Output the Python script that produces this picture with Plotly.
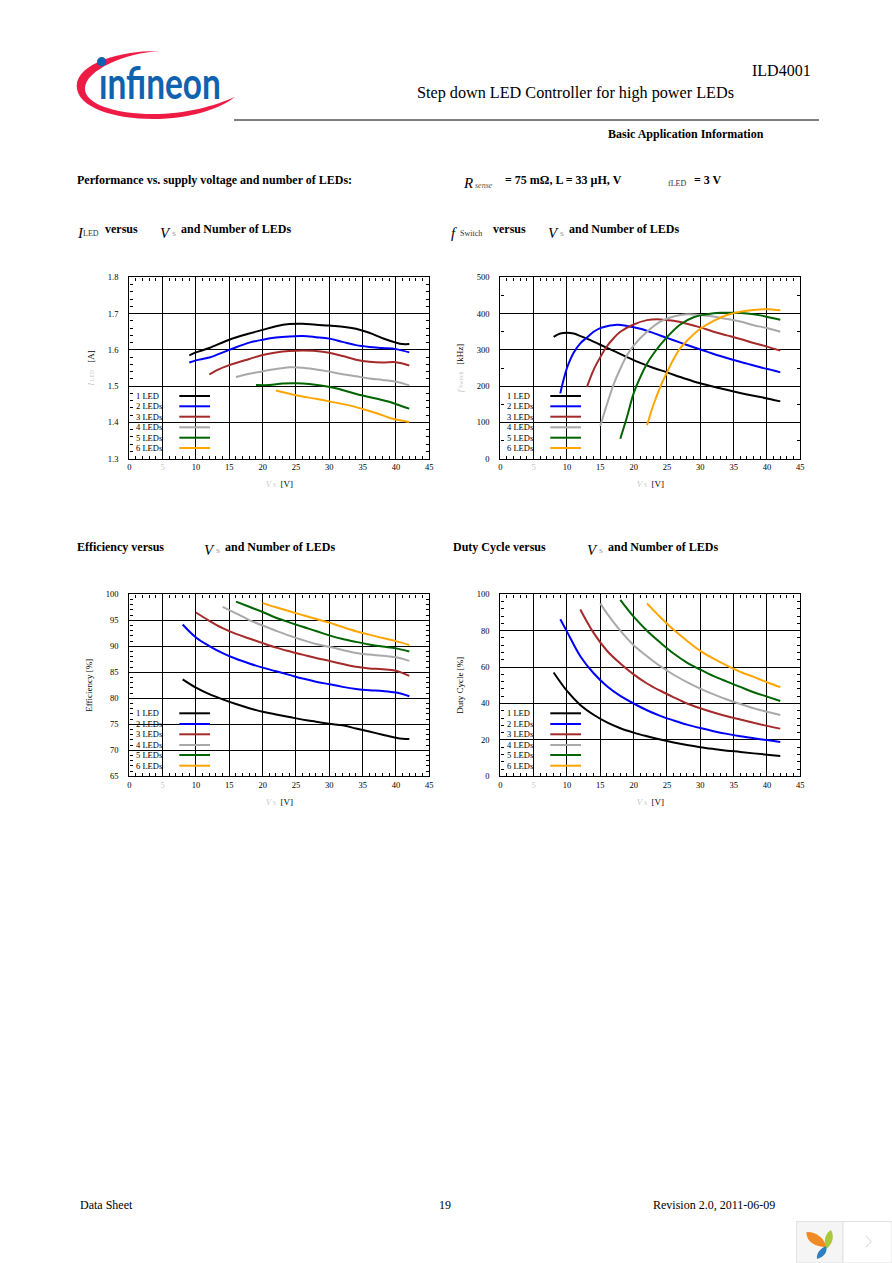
import plotly.graph_objects as go

W, H = 892, 1263
SERIES = ["1 LED", "2 LEDs", "3 LEDs", "4 LEDs", "5 LEDs", "6 LEDs"]
COLORS = ["#000000", "#0000ff", "#a52a2a", "#a9a9a9", "#006400", "#ffa500"]

# --- LED current [A] vs supply voltage
I_X1 = [9, 10, 12, 15, 18, 20, 22, 24, 26, 28, 30, 32, 34, 36, 38, 40, 41, 42]
I_Y1 = [1.585, 1.593, 1.605, 1.628, 1.645, 1.655, 1.665, 1.671, 1.672, 1.669, 1.667, 1.664, 1.658, 1.647, 1.632, 1.620, 1.616, 1.616]
I_X2 = [9, 10, 12, 15, 18, 20, 22, 24, 26, 28, 30, 32, 34, 36, 38, 40, 42]
I_Y2 = [1.565, 1.571, 1.579, 1.600, 1.620, 1.628, 1.634, 1.637, 1.638, 1.635, 1.631, 1.622, 1.613, 1.608, 1.605, 1.602, 1.593]
I_X3 = [12, 13, 15, 18, 20, 22, 24, 26, 28, 30, 32, 34, 36, 38, 40, 42]
I_Y3 = [1.532, 1.543, 1.558, 1.575, 1.586, 1.593, 1.597, 1.598, 1.597, 1.592, 1.583, 1.573, 1.567, 1.565, 1.566, 1.557]
I_X4 = [16, 18, 20, 22, 24, 26, 28, 30, 32, 34, 36, 38, 40, 42]
I_Y4 = [1.525, 1.534, 1.541, 1.547, 1.552, 1.551, 1.546, 1.540, 1.533, 1.527, 1.521, 1.517, 1.512, 1.502]
I_X5 = [19, 21, 23, 25, 27, 29, 31, 33, 35, 37, 39, 41, 42]
I_Y5 = [1.503, 1.503, 1.507, 1.508, 1.506, 1.501, 1.494, 1.484, 1.474, 1.466, 1.457, 1.444, 1.438]
I_X6 = [22, 25, 28, 30, 33, 35, 37, 39, 40, 42]
I_Y6 = [1.488, 1.475, 1.465, 1.458, 1.447, 1.437, 1.426, 1.413, 1.408, 1.401]

# --- Switching frequency [kHz] vs supply voltage
F_X1 = [8, 9, 10, 11, 12, 13, 15, 17, 19, 21, 23, 25, 27, 29, 31, 33, 35, 37, 39, 41, 42]
F_Y1 = [336, 345, 347, 345, 338, 331, 314, 297, 280, 264, 250, 238, 225, 213, 203, 194, 185, 177, 170, 162, 158]
F_X2 = [9, 9.5, 10, 11, 12, 13, 14, 15, 16, 17.5, 19, 21, 23, 25, 27, 29, 31, 33, 35, 37, 39, 41, 42]
F_Y2 = [180, 218, 250, 292, 318, 334, 350, 360, 365, 369, 366, 358, 346, 333, 320, 307, 295, 283, 272, 262, 252, 243, 238]
F_X3 = [13, 14, 15, 16, 17, 18, 20, 22, 24, 26, 28, 30, 32, 34, 36, 38, 40, 42]
F_Y3 = [198, 245, 280, 310, 332, 350, 370, 382, 384, 380, 372, 362, 350, 340, 330, 319, 309, 298]
F_X4 = [15, 16, 17, 18, 19, 20, 22, 24, 26, 28, 30, 32, 34, 36, 38, 40, 42]
F_Y4 = [90, 150, 205, 248, 285, 312, 350, 378, 392, 398, 396, 392, 385, 378, 368, 360, 350]
F_X5 = [18, 19, 20, 21, 22, 23, 25, 27, 29, 31, 33, 35, 37, 39, 41, 42]
F_Y5 = [55, 115, 180, 225, 262, 290, 335, 370, 390, 398, 402, 402, 400, 395, 387, 383]
F_X6 = [22, 23, 24, 25, 26, 27, 28, 30, 32, 34, 36, 38, 40, 42]
F_Y6 = [92, 150, 198, 238, 275, 305, 325, 358, 380, 396, 405, 410, 412, 409]

# --- Efficiency [%] vs supply voltage
E_X1 = [8, 10, 12, 14, 16, 18, 20, 22, 24, 26, 28, 30, 32, 34, 36, 38, 40, 41, 42]
E_Y1 = [83.65, 82.05, 80.8, 79.8, 78.9, 78.1, 77.4, 76.9, 76.4, 75.9, 75.5, 75.1, 74.8, 74.2, 73.6, 73.0, 72.4, 72.2, 72.15]
E_X2 = [8, 10, 12, 14, 16, 18, 20, 22, 24, 26, 28, 30, 32, 34, 36, 38, 40, 42]
E_Y2 = [94.2, 91.7, 90.05, 88.7, 87.6, 86.7, 85.9, 85.2, 84.5, 83.8, 83.2, 82.7, 82.2, 81.8, 81.55, 81.4, 81.1, 80.4]
E_X3 = [10, 12, 14, 16, 18, 20, 22, 24, 26, 28, 30, 32, 34, 36, 38, 40, 42]
E_Y3 = [96.5, 94.9, 93.5, 92.4, 91.5, 90.6, 89.75, 89.05, 88.4, 87.75, 87.2, 86.6, 86.05, 85.75, 85.6, 85.3, 84.3]
E_X4 = [14, 16, 18, 20, 22, 24, 26, 28, 30, 32, 34, 36, 38, 40, 42]
E_Y4 = [97.6, 96.35, 95.05, 94.0, 93.0, 92.05, 91.2, 90.45, 89.9, 89.3, 88.7, 88.4, 88.2, 87.9, 87.2]
E_X5 = [16, 18, 20, 22, 24, 26, 28, 30, 32, 34, 36, 38, 40, 42]
E_Y5 = [98.6, 97.6, 96.6, 95.5, 94.6, 93.75, 92.95, 92.1, 91.4, 90.85, 90.35, 89.95, 89.6, 89.0]
E_X6 = [20, 22, 24, 26, 28, 30, 32, 34, 36, 38, 40, 42]
E_Y6 = [98.3, 97.5, 96.75, 96.0, 95.25, 94.55, 93.7, 92.9, 92.25, 91.6, 91.0, 90.25]

# --- Duty cycle [%] vs supply voltage
D_X1 = [8, 10, 12, 14, 16, 18, 20, 22, 24, 26, 28, 30, 32, 34, 36, 38, 40, 42]
D_Y1 = [57, 46.9, 39.2, 33.8, 29.6, 26.4, 24, 22, 20.2, 18.6, 17.2, 16, 15, 14.1, 13.4, 12.6, 11.9, 11.2]
D_X2 = [9, 10, 12, 14, 16, 18, 20, 22, 24, 26, 28, 30, 32, 34, 36, 38, 40, 42]
D_Y2 = [86.3, 79.5, 66, 56.6, 49.5, 44.2, 40, 36.3, 33.2, 30.7, 28.4, 26.5, 24.8, 23.3, 22, 20.9, 19.9, 18.8]
D_X3 = [12, 14, 16, 18, 20, 22, 24, 26, 28, 30, 32, 34, 36, 38, 40, 42]
D_Y3 = [91.7, 78.8, 69, 62, 56, 51, 47, 43.4, 40, 37.4, 35.1, 33, 31.2, 29.4, 27.7, 26.2]
D_X4 = [15, 16, 18, 20, 22, 24, 26, 28, 30, 32, 34, 36, 38, 40, 42]
D_Y4 = [95, 89.5, 80, 72, 66, 60.5, 55.8, 51.8, 48.2, 45, 42.2, 39.7, 37.4, 35.5, 33.7]
D_X5 = [18, 20, 22, 24, 26, 28, 30, 32, 34, 36, 38, 40, 42]
D_Y5 = [96.9, 87.7, 80, 73.5, 67.5, 62.5, 58.6, 55, 52, 49.1, 46.2, 43.8, 41.4]
D_X6 = [22, 24, 26, 28, 30, 32, 34, 36, 38, 40, 42]
D_Y6 = [95, 87.4, 80.5, 74.5, 68.9, 64.6, 60.8, 57.4, 54.6, 51.7, 49]

X_TICKS = [0, 5, 10, 15, 20, 25, 30, 35, 40, 45]
I_TICKS = [1.3, 1.4, 1.5, 1.6, 1.7, 1.8]
F_TICKS = [0, 100, 200, 300, 400, 500]
E_TICKS = [65, 70, 75, 80, 85, 90, 95, 100]
D_TICKS = [0, 20, 40, 60, 80, 100]

PALE = "#c8c8c8"
SERIF = "Liberation Serif"


def pale_sym(sym, sub):
    return (f'<span style="color:{PALE}"><i>{sym}</i></span>'
            f'<span style="color:{PALE};font-size:6px"> {sub}</span>')


VS_TITLE = pale_sym("V", "S") + "  [V]"

PANELS = [
    dict(xs=[I_X1, I_X2, I_X3, I_X4, I_X5, I_X6], ys=[I_Y1, I_Y2, I_Y3, I_Y4, I_Y5, I_Y6],
         yticks=I_TICKS, fmt="{:.1f}", minor=0.02, rng=[1.3, 1.8],
         ytitle=pale_sym("I", "LED") + "   [A]",
         box=(129.3, 277.3, 429.3, 458.7), patch=(216, 391, 452.7),
         rows=[396, 406.3, 416.7, 427.3, 437.7, 448]),
    dict(xs=[F_X1, F_X2, F_X3, F_X4, F_X5, F_X6], ys=[F_Y1, F_Y2, F_Y3, F_Y4, F_Y5, F_Y6],
         yticks=F_TICKS, fmt="{:d}", minor=50, rng=[0, 500],
         ytitle=pale_sym("f", "Switch") + "   [kHz]",
         box=(500.3, 277.3, 800.3, 458.7), patch=(587, 388, 452.7),
         rows=[396, 406.3, 416.7, 427.3, 437.7, 448]),
    dict(xs=[E_X1, E_X2, E_X3, E_X4, E_X5, E_X6], ys=[E_Y1, E_Y2, E_Y3, E_Y4, E_Y5, E_Y6],
         yticks=E_TICKS, fmt="{:d}", minor=1, rng=[65, 100],
         ytitle="Efficiency [%]",
         box=(129.3, 594.3, 429.3, 776.3), patch=(216, 708, 771.7),
         rows=[713.3, 724, 734.3, 745, 755, 765.7]),
    dict(xs=[D_X1, D_X2, D_X3, D_X4, D_X5, D_X6], ys=[D_Y1, D_Y2, D_Y3, D_Y4, D_Y5, D_Y6],
         yticks=D_TICKS, fmt="{:d}", minor=4, rng=[0, 100],
         ytitle="Duty Cycle [%]",
         box=(500.3, 594.3, 800.3, 776.3), patch=(587, 708, 771.7),
         rows=[713.3, 724, 734.3, 745, 755, 765.7]),
]


def px(x):
    return x / W


def py(y):
    return 1 - y / H


def pth(s):
    """Convert 'M x y C x y x y x y ...' from page pixels to paper fractions."""
    out, isx = [], True
    for tok in s.split():
        if tok.isalpha():
            out.append(tok)
        else:
            v = float(tok)
            out.append(f"{px(v):.5f}" if isx else f"{py(v):.5f}")
            isx = not isx
    return " ".join(out)


fig = go.Figure()
shapes, notes = [], []


def text(x, y, s, size=12, bold=False, italic=False, color="#000000", anchor="left", family=SERIF):
    if bold:
        s = f"<b>{s}</b>"
    if italic:
        s = f"<i>{s}</i>"
    notes.append(dict(x=px(x - 1), y=py(y), xref="paper", yref="paper", text=s, showarrow=False,
                      xanchor=anchor, yanchor="middle", align=anchor, borderpad=0,
                      font=dict(family=family, size=size, color=color)))


for i, p in enumerate(PANELS):
    n = "" if i == 0 else str(i + 1)
    x0, y0, x1, y1 = p["box"]
    for j in range(6):
        fig.add_trace(go.Scatter(x=p["xs"][j], y=p["ys"][j], name=SERIES[j], mode="lines",
                                 line=dict(color=COLORS[j], width=2, shape="spline", smoothing=1),
                                 showlegend=False, xaxis=f"x{n}", yaxis=f"y{n}", hoverinfo="skip"))
    xt = [f'<span style="color:{PALE}">{v}</span>' if v == 5 else str(v) for v in X_TICKS]
    common = dict(showline=True, linecolor="#000000", linewidth=1.4, mirror="allticks",
                  showgrid=True, gridcolor="#000000", gridwidth=1, zeroline=False,
                  ticks="inside", ticklen=5, tickwidth=1, tickcolor="#000000",
                  tickfont=dict(family=SERIF, size=8.5, color="#000000"), tickangle=0)
    fig.update_layout({
        f"xaxis{n}": dict(common, domain=[px(x0), px(x1)], anchor=f"y{n}", range=[0, 45],
                          tickmode="array", tickvals=X_TICKS, ticktext=xt,
                          minor=dict(tickmode="linear", tick0=0, dtick=1, ticks="inside", ticklen=3,
                                     tickcolor="#000000", tickwidth=1, showgrid=False),
                          title=dict(text=VS_TITLE, standoff=9,
                                     font=dict(family=SERIF, size=9, color="#000000"))),
        f"yaxis{n}": dict(common, domain=[py(y1), py(y0)], anchor=f"x{n}", range=p["rng"],
                          tickmode="array", tickvals=p["yticks"],
                          ticktext=[p["fmt"].format(v) for v in p["yticks"]],
                          ticklabelstandoff=8,
                          minor=dict(tickmode="linear", tick0=p["rng"][0], dtick=p["minor"], ticks="inside",
                                     ticklen=3, tickcolor="#000000", tickwidth=1, showgrid=False),
                          title=dict(text=p["ytitle"], standoff=11,
                                     font=dict(family=SERIF, size=9, color="#000000"))),
    })
    # white legend patch over the grid, with hand-placed keys (label left of the line)
    right, top, bottom = p["patch"]
    shapes.append(dict(type="rect", xref="paper", yref="paper", x0=px(x0 + 1), x1=px(right),
                       y0=py(bottom), y1=py(top), fillcolor="#ffffff", line_width=0, layer="between"))
    for j, ry in enumerate(p["rows"]):
        text(x0 + 6.6, ry, SERIES[j], size=8.5)
        shapes.append(dict(type="line", xref="paper", yref="paper", x0=px(x0 + 50), x1=px(x0 + 80.7),
                           y0=py(ry), y1=py(ry), line=dict(color=COLORS[j], width=2)))

# --- Page furniture
text(752, 70, "ILD4001", size=16)
text(417, 93.5, "Step down LED Controller for high power LEDs", size=16.2)
shapes.append(dict(type="line", xref="paper", yref="paper", x0=px(234), x1=px(819), y0=py(120), y1=py(120),
                   line=dict(color="#000000", width=1)))
text(608, 134, "Basic Application Information", size=12, bold=True)
text(77, 180, "Performance vs. supply voltage and number of LEDs:", size=12, bold=True)
text(463, 183, "R", size=15, italic=True)
text(475, 185, "sense", size=8, italic=True, color="#555555")
text(505, 180, "= 75 mΩ, L = 33 µH, V", size=12, bold=True)
text(668, 184, "fLED", size=8, color="#333333")
text(694, 180, "= 3 V", size=12, bold=True)

text(77, 233, "I", size=15, italic=True)
text(83, 233, "LED", size=8, color="#333333")
text(105, 229, "versus", size=12, bold=True)
text(160, 233, "V", size=15, italic=True)
text(172, 234, "S", size=7, color="#888888")
text(181, 229, "and Number of LEDs", size=12, bold=True)

text(451, 233, "f", size=15, italic=True)
text(460, 233, "Switch", size=8, color="#333333")
text(493, 229, "versus", size=12, bold=True)
text(548, 233, "V", size=15, italic=True)
text(560, 234, "S", size=7, color="#888888")
text(569, 229, "and Number of LEDs", size=12, bold=True)

text(77, 547, "Efficiency versus", size=12, bold=True)
text(204, 550, "V", size=15, italic=True)
text(216, 551, "S", size=7, color="#888888")
text(225, 547, "and Number of LEDs", size=12, bold=True)

text(453, 547, "Duty Cycle versus", size=12, bold=True)
text(587, 550, "V", size=15, italic=True)
text(599, 551, "S", size=7, color="#888888")
text(608, 547, "and Number of LEDs", size=12, bold=True)

text(80, 1205, "Data Sheet", size=12)
text(439, 1205, "19", size=12)
text(653, 1205, "Revision 2.0, 2011-06-09", size=12)

# --- Logo
shapes.append(dict(type="path", xref="paper", yref="paper", fillcolor="#ee1c45", line_width=0, path=pth(
    "M 160 51 C 125 50 77 62 76.7 86 C 77 108 115 119 153 119 C 190 119 222 108 235 96.7 "
    "C 215 106 185 114 153 114 C 115 114 84 104 85 88 C 86 70 125 53 160 51 Z")))
shapes.append(dict(type="circle", xref="paper", yref="paper", x0=px(97), x1=px(106.4), y0=py(66.4), y1=py(57),
                   fillcolor="#0f62ad", line_width=0))
text(98.5, 82, "ınfineon", size=44, color="#0f62ad", family="Lato", bold=True)

# --- Corner widget
shapes.append(dict(type="rect", xref="paper", yref="paper", x0=px(796.5), x1=px(843), y0=py(1263), y1=py(1221.5),
                   fillcolor="#f5f5f5", line=dict(color="#e2e2e2", width=1)))
shapes.append(dict(type="rect", xref="paper", yref="paper", x0=px(843), x1=px(892), y0=py(1263), y1=py(1221.5),
                   fillcolor="#ffffff", line=dict(color="#e2e2e2", width=1)))
shapes.append(dict(type="path", xref="paper", yref="paper", line=dict(color="#d2d2d2", width=1), path=pth(
    "M 866 1236 L 871 1241.5 L 866 1247")))
shapes.append(dict(type="path", xref="paper", yref="paper", fillcolor="#f08a24", line_width=0, path=pth(
    "M 806.5 1232 C 815 1231 825 1238 826 1247 C 816 1247 806 1242 806.5 1232 Z")))
shapes.append(dict(type="path", xref="paper", yref="paper", fillcolor="#a9c83c", line_width=0, path=pth(
    "M 831 1230 C 835 1237 832 1244 826.5 1249 C 823 1242 825 1233 831 1230 Z")))
shapes.append(dict(type="path", xref="paper", yref="paper", fillcolor="#2f7fc1", line_width=0, path=pth(
    "M 817 1259 C 816 1253 821 1248 826 1246 C 828 1252 824 1257 817 1259 Z")))

fig.update_layout(width=W, height=H, margin=dict(l=0, r=0, t=0, b=0, pad=0, autoexpand=False), autosize=False,
                  paper_bgcolor="#ffffff", plot_bgcolor="#ffffff", showlegend=False,
                  shapes=shapes, annotations=notes, hovermode=False)

# Squeeze the logo wordmark horizontally, as the reference's condensed lettering has no installed font.
POST = """
document.body.style.margin='0';document.documentElement.style.overflow='hidden';
document.querySelectorAll('text.annotation-text').forEach(function(t){
  if(t.textContent==='\u0131nfineon'){
    var b=t.getBBox();
    t.setAttribute('transform','translate('+b.x+',0) scale(0.76,1) translate('+(-b.x)+',0)');
  }
});
"""
fig.write_html("out.html", config=dict(displayModeBar=False), post_script=POST)
